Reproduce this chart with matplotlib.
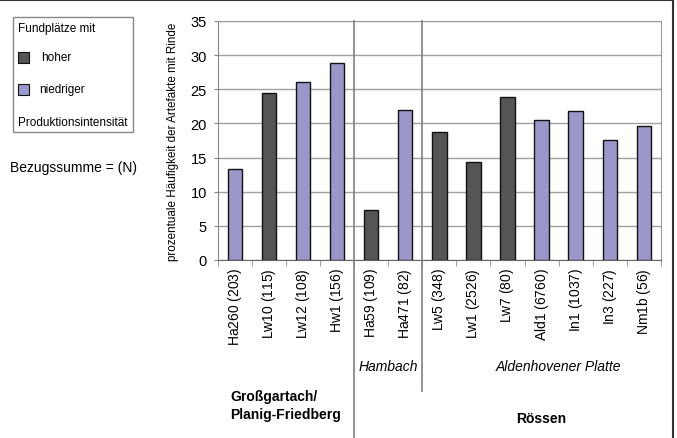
import numpy as np
import matplotlib
matplotlib.use("Agg")
import matplotlib.pyplot as plt
import matplotlib.transforms as mtransforms
from matplotlib.patches import Rectangle

plt.rcParams['font.family'] = ['Liberation Sans', 'DejaVu Sans']
plt.rcParams['mathtext.fontset'] = 'custom'
plt.rcParams['mathtext.rm'] = 'Liberation Sans'
plt.rcParams['mathtext.it'] = 'Liberation Sans:italic'

# data
sites = ['Ha260', 'Lw10', 'Lw12', 'Hw1', 'Ha59', 'Ha471', 'Lw5', 'Lw1',
         'Lw7', 'Ald1', 'In1', 'In3', 'Nm1b']
counts = [203, 115, 108, 156, 109, 82, 348, 2526, 80, 6760, 1037, 227, 56]
values = [13.3, 24.4, 26.0, 28.9, 7.3, 22.0, 18.7, 14.4, 23.8, 20.5, 21.8, 17.6, 19.6]
intensity = ['n', 'h', 'n', 'n', 'h', 'n', 'h', 'h', 'h', 'n', 'n', 'n', 'n']

dark = '#555555'
light = '#9b98c9'

fig = plt.figure(figsize=(6.77, 4.39), dpi=100)
ax = fig.add_axes([0.322, 0.4055, 0.654, 0.5445])

x = np.arange(len(sites))
cols = [dark if c == 'h' else light for c in intensity]
ax.bar(x, values, width=0.42, color=cols, edgecolor='#111111', linewidth=1.0, zorder=3)

ax.set_xlim(-0.5, len(sites) - 0.5)
ax.set_ylim(0, 35)
ax.set_yticks(np.arange(0, 36, 5))
ax.yaxis.grid(True, color='#a0a0a0', linewidth=1.0, zorder=0)
ax.tick_params(axis='y', labelsize=10.5, length=3, color='#888888', pad=5)

labels = [f"{s} $\\mathit{{({n})}}$" for s, n in zip(sites, counts)]
ax.set_xticks(x)
ax.set_xticklabels(labels, rotation=90, fontsize=10)
ax.set_xticks(np.arange(-0.5, len(sites)), minor=True)
ax.tick_params(axis='x', which='major', length=0, pad=5)
ax.tick_params(axis='x', which='minor', length=4, color='#888888', direction='out')

for sp in ['top', 'right']:
    ax.spines[sp].set_color('#999999')
ax.spines['left'].set_color('#888888')
ax.spines['bottom'].set_color('#666666')

ax.set_ylabel('prozentuale Häufigkeit der Artefakte mit Rinde', fontsize=8.4, labelpad=8)

# separators between groups
trans = mtransforms.blended_transform_factory(ax.transData, fig.transFigure)
ax.plot([3.5, 3.5], [0.95, 0.0], transform=trans, color='#808080', lw=1.2, clip_on=False, zorder=4)
ax.plot([5.5, 5.5], [0.95, 0.107], transform=trans, color='#808080', lw=1.2, clip_on=False, zorder=4)

# group labels
ax.text(4.5, 0.164, 'Hambach', transform=trans, ha='center', va='center',
        style='italic', fontsize=10)
ax.text(9.5, 0.164, 'Aldenhovener Platte', transform=trans, ha='center', va='center',
        style='italic', fontsize=10)
fig.text(0.34, 0.075, 'Großgartach/\nPlanig-Friedberg', ha='left', va='center',
         fontweight='bold', fontsize=10, linespacing=1.3)
ax.text(9.0, 0.045, 'Rössen', transform=trans, ha='center', va='center',
        fontweight='bold', fontsize=10)

# legend box
W, H = 677, 439
fig.patches.append(Rectangle((13 / W, 1 - 133 / H), 120 / W, 115 / H, transform=fig.transFigure,
                             facecolor='white', edgecolor='#888888', lw=1.0))
fig.text(18 / W, 1 - 29 / H, 'Fundplätze mit', fontsize=8.5, va='center')
fig.patches.append(Rectangle((18 / W, 1 - 64 / H), 11 / W, 11 / H, transform=fig.transFigure,
                             facecolor=dark, edgecolor='#111111', lw=0.8))
fig.text(41 / W, 1 - 58 / H, 'hoher', fontsize=8.5, va='center')
fig.patches.append(Rectangle((18 / W, 1 - 96 / H), 11 / W, 11 / H, transform=fig.transFigure,
                             facecolor=light, edgecolor='#111111', lw=0.8))
fig.text(39 / W, 1 - 90 / H, 'niedriger', fontsize=8.5, va='center')
fig.text(18 / W, 1 - 123 / H, 'Produktionsintensität', fontsize=8.5, va='center')

fig.text(10 / W, 1 - 168 / H, 'Bezugssumme = (N)', fontsize=10, va='center')

# frame lines on top and right
fig.add_artist(plt.Line2D([0, 673 / W], [0.998, 0.998], transform=fig.transFigure,
                          color='#333333', lw=1.5))
fig.add_artist(plt.Line2D([673 / W, 673 / W], [0, 0.998], transform=fig.transFigure,
                          color='#333333', lw=1.5))

fig.savefig('out.png', dpi=100)
